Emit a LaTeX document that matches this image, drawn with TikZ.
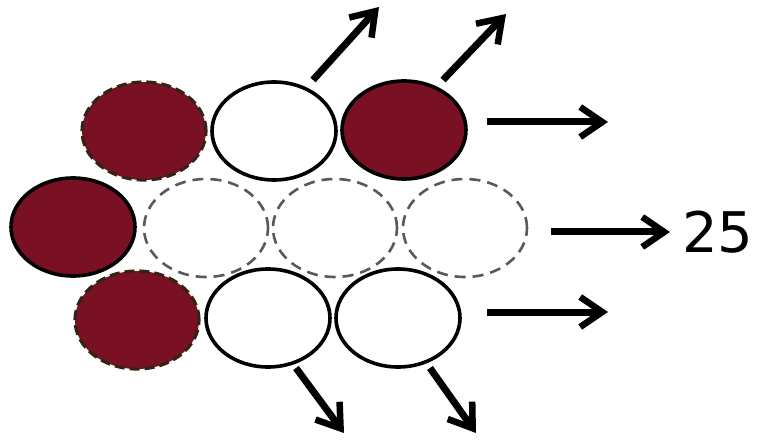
\documentclass[tikz,border=0pt]{standalone}
\usepackage{fontspec}
\setmainfont{DejaVu Sans}
\usetikzlibrary{arrows.meta,shapes.geometric}
\definecolor{wine}{RGB}{122,16,36}
\definecolor{rimdash}{RGB}{50,35,20}
\begin{document}
\begin{tikzpicture}[x=1pt,y=-1pt,
  cell/.style={ellipse, minimum width=124pt, minimum height=98pt, inner sep=0pt},
  redsolid/.style={cell, fill=wine, draw=black, line width=3.6pt},
  reddash/.style={cell, fill=wine, draw=rimdash, line width=3.2pt, dash pattern=on 10pt off 5pt},
  whitesolid/.style={cell, fill=white, draw=black, line width=3.6pt},
  ghost/.style={cell, draw=black!65, line width=2.6pt, dash pattern=on 11pt off 7pt},
  flow/.style={line width=7pt, -{Straight Barb[length=22pt, width=30pt, line width=6.5pt]}},
  lbl/.style={font=\fontsize{56}{60}\selectfont, inner sep=0pt, anchor=west}
]
\useasboundingbox (0,0) rectangle (764,441);
% middle row of faded (dashed) cells
\node[ghost] (m2) at (206,228) {};
\node[ghost] (m3) at (335,228) {};
\node[ghost] (m4) at (465,228) {};
% top row
\node[reddash]    (t1) at (144,131) {};
\node[whitesolid] (t2) at (274,131) {};
\node[redsolid]   (t3) at (404,130) {};
% middle row, occupied cell
\node[redsolid]   (m1) at (73,227) {};
% bottom row
\node[reddash]    (b1) at (137,320) {};
\node[whitesolid] (b2) at (268,318) {};
\node[whitesolid] (b3) at (398,318) {};
% arrow end points
\coordinate (u1s) at (313,80);  \coordinate (u1e) at (379,7);
\coordinate (u2s) at (443,80);  \coordinate (u2e) at (506,14);
\coordinate (r1s) at (487,122); \coordinate (r1e) at (608,122);
\coordinate (r2s) at (551,232); \coordinate (r2e) at (670,232);
\coordinate (r3s) at (487,312); \coordinate (r3e) at (608,312);
\coordinate (d1s) at (296,368); \coordinate (d1e) at (344,433);
\coordinate (d2s) at (430,368); \coordinate (d2e) at (476,433);
\draw[flow] (u1s) -- (u1e);
\draw[flow] (u2s) -- (u2e);
\draw[flow] (r1s) -- (r1e);
\draw[flow] (r2s) -- (r2e);
\draw[flow] (r3s) -- (r3e);
\draw[flow] (d1s) -- (d1e);
\draw[flow] (d2s) -- (d2e);
\node[lbl] (n25) at (682,232) {25};
\end{tikzpicture}
\end{document}
